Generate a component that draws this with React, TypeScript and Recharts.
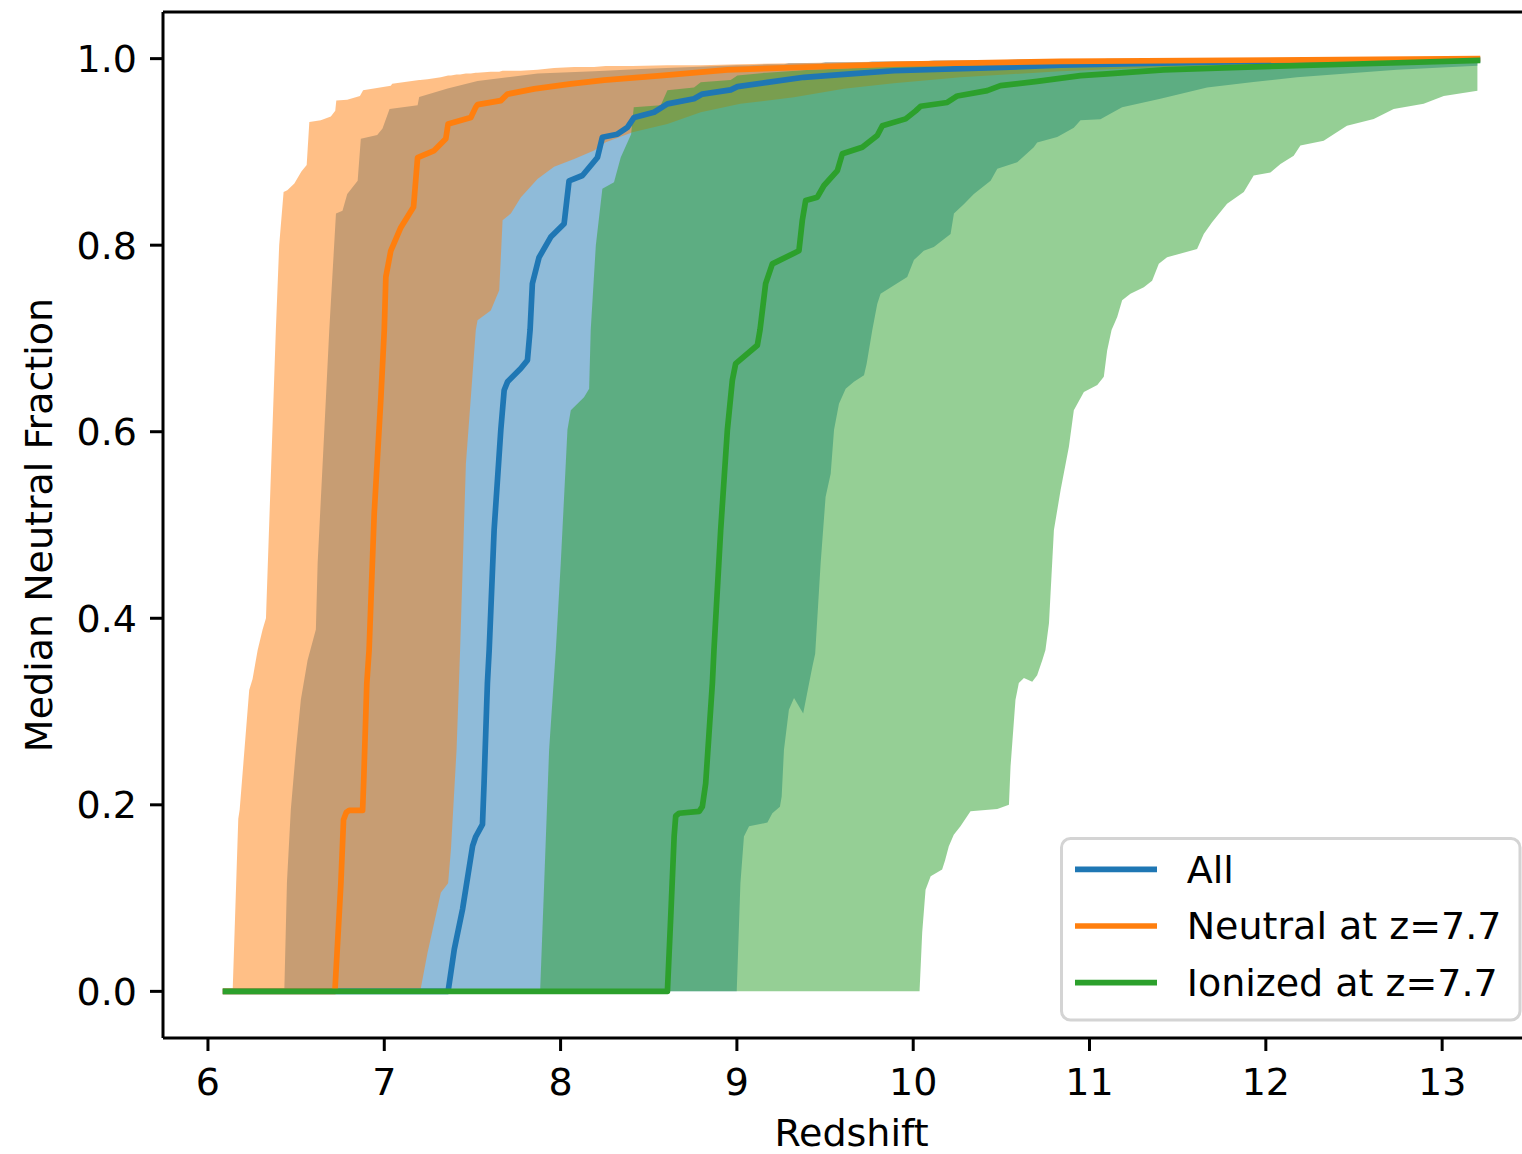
import React from 'react';
import { ComposedChart, Area, Line, XAxis, YAxis, Legend, ReferenceLine } from 'recharts';

const FONT = '"DejaVu Sans", Verdana, sans-serif';

// band rows: [redshift, lower fraction, upper fraction]
const allBand: number[][] = [
  [6.1, 0, 0], [6.433, 0, 0], [6.448, 0, 0.117], [6.47, 0, 0.195], [6.499, 0, 0.259],
  [6.527, 0, 0.313], [6.565, 0, 0.355], [6.612, 0, 0.388], [6.622, 0, 0.459], [6.66, 0, 0.602],
  [6.688, 0, 0.709], [6.726, 0, 0.834], [6.763, 0, 0.837], [6.79, 0, 0.855], [6.849, 0, 0.869],
  [6.867, 0, 0.914], [6.96, 0, 0.918], [6.99, 0, 0.925], [7.03, 0, 0.946], [7.189, 0, 0.95],
  [7.198, 0, 0.959], [7.359, 0, 0.968], [7.529, 0, 0.976], [7.699, 0, 0.98], [7.87, 0, 0.984],
  [8.19, 0, 0.9865], [8.455, 0, 0.989], [8.999, 0, 0.993], [9.02, 0.116, 0.993], [9.04, 0.166, 0.993],
  [9.069, 0.177, 0.993], [9.173, 0.181, 0.994], [9.201, 0.191, 0.994], [9.244, 0.198, 0.994],
  [9.254, 0.209, 0.994], [9.267, 0.259, 0.994], [9.295, 0.302, 0.995], [9.324, 0.3145, 0.995],
  [9.376, 0.298, 0.995], [9.402, 0.323, 0.995], [9.428, 0.348, 0.995], [9.444, 0.362, 0.995],
  [9.475, 0.459, 0.995], [9.503, 0.53, 0.996], [9.532, 0.555, 0.996], [9.551, 0.602, 0.996],
  [9.579, 0.63, 0.996], [9.617, 0.646, 0.996], [9.664, 0.6535, 0.996], [9.721, 0.6606, 0.996],
  [9.736, 0.673, 0.996], [9.768, 0.709, 0.997], [9.796, 0.737, 0.997], [9.815, 0.748, 0.997],
  [9.966, 0.766, 0.997], [10.004, 0.784, 0.997], [10.06, 0.794, 0.997], [10.117, 0.798, 0.998],
  [10.212, 0.812, 0.998], [10.231, 0.834, 0.998], [10.287, 0.844, 0.998], [10.344, 0.855, 0.998],
  [10.439, 0.869, 0.998], [10.477, 0.882, 0.998], [10.59, 0.889, 0.999], [10.684, 0.905, 0.999],
  [10.703, 0.91, 0.999], [10.817, 0.916, 0.999], [10.911, 0.926, 0.999], [10.949, 0.934, 0.999],
  [11.062, 0.935, 0.999], [11.1, 0.939, 1.0], [11.185, 0.948, 1.0], [11.402, 0.957, 1.0],
  [11.667, 0.969, 1.0], [11.93, 0.975, 1.0], [12.177, 0.98, 1.0], [12.46, 0.984, 1.0],
  [12.744, 0.988, 1.0], [13.2, 0.9925, 1.0],
];

const neutralBand: number[][] = [
  [6.1, 0, 0], [6.14, 0, 0], [6.172, 0, 0.185], [6.18, 0, 0.195], [6.234, 0, 0.323],
  [6.253, 0, 0.335], [6.282, 0, 0.366], [6.31, 0, 0.388], [6.329, 0, 0.4], [6.385, 0, 0.709],
  [6.404, 0, 0.8], [6.429, 0, 0.857], [6.45, 0, 0.859], [6.49, 0, 0.866], [6.53, 0, 0.879],
  [6.56, 0, 0.886], [6.575, 0, 0.932], [6.64, 0, 0.934], [6.697, 0, 0.938], [6.722, 0, 0.944],
  [6.728, 0, 0.955], [6.79, 0, 0.956], [6.862, 0, 0.96], [6.88, 0, 0.966], [7.037, 0, 0.971],
  [7.045, 0, 0.973], [7.198, 0, 0.977], [7.204, 0, 0.977], [7.245, 0.041, 0.978], [7.321, 0.106, 0.98],
  [7.362, 0.116, 0.982], [7.378, 0.152, 0.982], [7.41, 0.259, 0.983], [7.43, 0.366, 0.983],
  [7.463, 0.566, 0.984], [7.491, 0.637, 0.984], [7.519, 0.709, 0.985], [7.529, 0.7195, 0.985],
  [7.604, 0.73, 0.986], [7.652, 0.7516, 0.986], [7.671, 0.8266, 0.987], [7.718, 0.834, 0.987],
  [7.774, 0.851, 0.987], [7.869, 0.871, 0.988], [7.963, 0.884, 0.99], [8.077, 0.8925, 0.991],
  [8.19, 0.9015, 0.991], [8.256, 0.9104, 0.992], [8.408, 0.921, 0.992], [8.606, 0.93, 0.993],
  [8.795, 0.9425, 0.993], [9.02, 0.9515, 0.994], [9.324, 0.9586, 0.995], [9.607, 0.9676, 0.996],
  [9.89, 0.9736, 0.997], [10.269, 0.98, 0.998], [10.836, 0.9864, 0.999], [11.44, 0.991, 1.0],
  [12.3, 0.994, 1.0], [13.2, 0.996, 1.0],
];

const ionizedBand: number[][] = [
  [6.1, 0, 0], [7.884, 0, 0], [7.907, 0, 0.116], [7.935, 0, 0.259], [7.973, 0, 0.366],
  [8.001, 0, 0.459], [8.039, 0, 0.602], [8.058, 0, 0.623], [8.133, 0, 0.637], [8.162, 0, 0.646],
  [8.171, 0, 0.709], [8.2, 0, 0.8], [8.237, 0, 0.8605], [8.303, 0, 0.8676], [8.341, 0, 0.894],
  [8.4, 0, 0.919], [8.415, 0, 0.948], [8.568, 0, 0.95], [8.606, 0, 0.966], [8.757, 0, 0.969],
  [8.795, 0, 0.9746], [8.965, 0, 0.977], [9.003, 0, 0.9818], [9.17, 0, 0.985], [9.418, 0, 0.988],
  [10.036, 0, 0.993], [10.051, 0.063, 0.993], [10.07, 0.109, 0.993], [10.099, 0.1235, 0.993],
  [10.164, 0.1306, 0.994], [10.18, 0.14, 0.994], [10.202, 0.1556, 0.994], [10.23, 0.168, 0.994],
  [10.268, 0.177, 0.994], [10.306, 0.1877, 0.994], [10.325, 0.193, 0.994], [10.477, 0.1956, 0.995],
  [10.543, 0.2, 0.995], [10.552, 0.241, 0.995], [10.58, 0.3126, 0.995], [10.599, 0.3305, 0.995],
  [10.628, 0.336, 0.995], [10.675, 0.332, 0.996], [10.703, 0.339, 0.996], [10.732, 0.355, 0.996],
  [10.75, 0.366, 0.996], [10.77, 0.3947, 0.996], [10.798, 0.4946, 0.996], [10.836, 0.5375, 0.996],
  [10.883, 0.5838, 0.997], [10.911, 0.623, 0.997], [10.968, 0.6427, 0.997], [11.044, 0.65, 0.997],
  [11.081, 0.659, 0.997], [11.1, 0.687, 0.997], [11.125, 0.709, 0.997], [11.157, 0.723, 0.998],
  [11.185, 0.741, 0.998], [11.232, 0.748, 0.998], [11.308, 0.755, 0.998], [11.355, 0.762, 0.998],
  [11.393, 0.78, 0.998], [11.44, 0.787, 0.998], [11.61, 0.796, 0.998], [11.648, 0.812, 0.998],
  [11.695, 0.8247, 0.999], [11.78, 0.8444, 0.999], [11.875, 0.857, 0.999], [11.931, 0.8747, 0.999],
  [12.026, 0.878, 0.999], [12.083, 0.887, 0.999], [12.158, 0.896, 0.999], [12.196, 0.907, 0.999],
  [12.328, 0.912, 0.999], [12.385, 0.919, 0.999], [12.46, 0.928, 0.999], [12.612, 0.9354, 1.0],
  [12.725, 0.946, 1.0], [12.895, 0.9515, 1.0], [13.009, 0.96, 1.0], [13.2, 0.9657, 1.0],
];

// median rows: [redshift, median neutral fraction]
const allMedian: number[][] = [
  [6.1, 0], [7.362, 0], [7.397, 0.045], [7.444, 0.088], [7.501, 0.156], [7.519, 0.166],
  [7.557, 0.179], [7.566, 0.223], [7.585, 0.3305], [7.595, 0.366], [7.623, 0.4946], [7.661, 0.602],
  [7.68, 0.6445], [7.699, 0.6535], [7.774, 0.6677], [7.812, 0.6767], [7.827, 0.709], [7.84, 0.7588],
  [7.878, 0.787], [7.944, 0.8087], [8.02, 0.823], [8.048, 0.869], [8.124, 0.8747], [8.209, 0.894],
  [8.237, 0.9157], [8.322, 0.919], [8.379, 0.9264], [8.417, 0.937], [8.53, 0.9425], [8.606, 0.9515],
  [8.757, 0.957], [8.804, 0.962], [8.965, 0.9665], [9.003, 0.97], [9.173, 0.9746], [9.38, 0.98],
  [9.664, 0.984], [9.89, 0.987], [10.42, 0.99], [10.836, 0.993], [11.9, 0.997], [13.2, 0.999],
];

const neutralMedian: number[][] = [
  [6.1, 0], [6.72, 0], [6.754, 0.116], [6.769, 0.184], [6.785, 0.192], [6.801, 0.194],
  [6.877, 0.194], [6.883, 0.2234], [6.901, 0.3305], [6.914, 0.366], [6.943, 0.5125], [6.981, 0.637],
  [7.0, 0.709], [7.009, 0.766], [7.037, 0.794], [7.094, 0.819], [7.166, 0.841], [7.189, 0.894],
  [7.283, 0.9015], [7.349, 0.914], [7.362, 0.93], [7.491, 0.937], [7.519, 0.948], [7.529, 0.9507],
  [7.661, 0.955], [7.699, 0.962], [7.85, 0.9676], [8.058, 0.973], [8.247, 0.977], [8.568, 0.9818],
  [8.946, 0.988], [9.89, 0.994], [10.836, 0.997], [13.2, 1.0],
];

const ionizedMedian: number[][] = [
  [6.1, 0], [8.606, 0], [8.625, 0.081], [8.644, 0.166], [8.653, 0.188], [8.672, 0.191],
  [8.786, 0.193], [8.804, 0.198], [8.823, 0.223], [8.842, 0.277], [8.861, 0.3305], [8.87, 0.366],
  [8.908, 0.4946], [8.946, 0.602], [8.974, 0.655], [8.993, 0.673], [9.116, 0.6927], [9.131, 0.709],
  [9.163, 0.7588], [9.201, 0.78], [9.352, 0.794], [9.371, 0.8266], [9.39, 0.848], [9.456, 0.8515],
  [9.494, 0.864], [9.57, 0.88], [9.598, 0.898], [9.711, 0.905], [9.796, 0.9176], [9.825, 0.928],
  [9.957, 0.9354], [10.014, 0.944], [10.042, 0.949], [10.193, 0.953], [10.25, 0.96], [10.42, 0.9657],
  [10.495, 0.971], [10.703, 0.9757], [10.949, 0.9818], [11.1, 0.9836], [11.42, 0.988],
  [11.894, 0.991], [12.46, 0.994], [13.2, 0.998],
];

const xTicks = [6, 7, 8, 9, 10, 11, 12, 13];
const yTicks = [0, 0.2, 0.4, 0.6, 0.8, 1.0];
const seriesNames = ['All', 'Neutral at z=7.7', 'Ionized at z=7.7'];
const seriesColors = ['#1f77b4', '#ff7f0e', '#2ca02c'];

const xDomain = [5.745, 13.555];
const yDomain = [-0.05, 1.05];

const bands = [allBand, neutralBand, ionizedBand].map((rows) =>
  rows.map(([z, lo, hi]) => ({ z, range: [lo, hi] }))
);
const medians = [allMedian, neutralMedian, ionizedMedian].map((rows) =>
  rows.map(([z, f]) => ({ z, f }))
);

const spine = { stroke: '#000', strokeWidth: 3 };
const tickStyle = { fill: '#000', fontSize: 38, fontFamily: FONT };

const YTitle = (props: any) => {
  const vb = props.viewBox;
  const cy = vb && vb.height ? vb.y + vb.height / 2 : 525;
  return (
    <text x={52} y={cy} transform={`rotate(-90, 52, ${cy})`} textAnchor="middle"
      fontSize={38} fontFamily={FONT} fill="#000">
      Median Neutral Fraction
    </text>
  );
};

const LegendBox = () => (
  <svg width={462} height={186} style={{ display: 'block' }}>
    <rect x={1.5} y={1.5} width={458.5} height={181.5} rx={9} fill="#fff" fillOpacity={0.8}
      stroke="#d4d4d4" strokeWidth={3} />
    {seriesNames.map((name, i) => (
      <g key={name}>
        <line x1={15} x2={97} y1={32.3 + i * 56.7} y2={32.3 + i * 56.7}
          stroke={seriesColors[i]} strokeWidth={5.7} />
        <text x={126.7} y={45.7 + i * 56.7} fontSize={38} fontFamily={FONT} fill="#000">
          {name}
        </text>
      </g>
    ))}
  </svg>
);

export default function App() {
  return (
    <div style={{ position: 'absolute', left: 0, top: 0, width: 1522, height: 1154,
      overflow: 'hidden', background: '#fff', fontFamily: FONT }}>
      <ComposedChart width={1560} height={1154} margin={{ top: 12, right: 20, bottom: 0, left: 0 }}>
        <XAxis type="number" dataKey="z" domain={xDomain} ticks={xTicks} interval={0}
          allowDataOverflow height={116} tickSize={13} tickMargin={17}
          axisLine={spine} tickLine={spine} tick={tickStyle}
          label={{ value: 'Redshift', position: 'insideBottom', offset: 8,
            fontSize: 38, fill: '#000', fontFamily: FONT }} />
        <YAxis type="number" domain={yDomain} ticks={yTicks} interval={0} allowDataOverflow
          width={163} tickSize={13} tickMargin={13} axisLine={spine} tickLine={spine}
          tick={tickStyle} tickFormatter={(v: number) => v.toFixed(1)} label={<YTitle />} />

        {bands.map((data, i) => (
          <Area key={`band-${i}`} data={data} dataKey="range" type="linear" stroke="none"
            fill={seriesColors[i]} fillOpacity={0.5} dot={false} activeDot={false}
            legendType="none" isAnimationActive={false} />
        ))}
        {medians.map((data, i) => (
          <Line key={`median-${i}`} data={data} dataKey="f" name={seriesNames[i]} type="linear"
            stroke={seriesColors[i]} strokeWidth={5.7} strokeLinecap="square" strokeLinejoin="round"
            dot={false} activeDot={false} isAnimationActive={false} />
        ))}

        {/* top and right spines */}
        <ReferenceLine y={yDomain[1]} stroke="#000" strokeWidth={3} />
        <ReferenceLine x={xDomain[1]} stroke="#000" strokeWidth={3} />

        <Legend layout="vertical" align="center" verticalAlign="middle" content={<LegendBox />}
          wrapperStyle={{ left: 1060, top: 837, width: 462, height: 186 }} />
      </ComposedChart>
    </div>
  );
}
